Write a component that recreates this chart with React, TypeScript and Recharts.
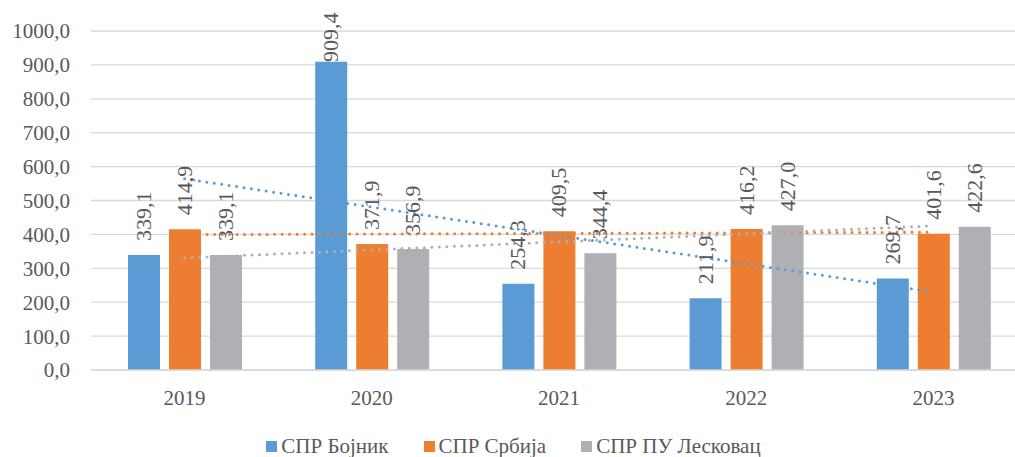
import { Bar, CartesianGrid, ComposedChart, LabelList, Legend, Line, XAxis, YAxis } from 'recharts'

const years = ['2019', '2020', '2021', '2022', '2023']
const bojnik = [339.1, 909.4, 254.3, 211.9, 269.7]
const srbija = [414.9, 371.9, 409.5, 416.2, 401.6]
const leskovac = [339.1, 356.9, 344.4, 427.0, 422.6]
const yTicks = [0, 100, 200, 300, 400, 500, 600, 700, 800, 900, 1000]

const FONT = '"Liberation Serif", "Times New Roman", serif'
const TEXT = '#595959'
const GRID = '#D9D9D9'

const series = [
  { key: 'bojnik', name: 'СПР Бојник', color: '#5B9BD5', values: bojnik },
  { key: 'srbija', name: 'СПР Србија', color: '#ED7D31', values: srbija },
  { key: 'leskovac', name: 'СПР ПУ Лесковац', color: '#AFB0B4', values: leskovac },
]

// linear trendline (least squares), as Excel draws it
function trend(values: number[]) {
  const n = values.length
  const mx = (n - 1) / 2
  const my = values.reduce((a, b) => a + b, 0) / n
  let sxy = 0
  let sxx = 0
  values.forEach((v, i) => {
    sxy += (i - mx) * (v - my)
    sxx += (i - mx) * (i - mx)
  })
  const slope = sxy / sxx
  return values.map((_, i) => my + slope * (i - mx))
}

const trends = series.map((s) => trend(s.values))

const data = years.map((year, i) => {
  const row: Record<string, string | number> = { year }
  series.forEach((s, k) => {
    row[s.key] = s.values[i]
    row[s.key + 'Trend'] = trends[k][i]
  })
  return row
})

const fmt = (v: number) => Number(v).toFixed(1).replace('.', ',')

function RotatedLabel(props: any) {
  const { x, y, width, value } = props
  const bx = Number(x) + Number(width) / 2 + 7
  // keep the tallest label inside the chart, like Excel does
  const by = Math.max(Number(y) - 14, 62)
  return (
    <text
      x={bx}
      y={by}
      transform={`rotate(-90 ${bx} ${by})`}
      textAnchor="start"
      fontSize={22}
      fill={TEXT}
      style={{ fontFamily: FONT }}
    >
      {fmt(value)}
    </text>
  )
}

function LegendContent() {
  return (
    <div style={{ display: 'flex', justifyContent: 'center', gap: 35, fontFamily: FONT, fontSize: 21, color: TEXT, lineHeight: '20px', height: 20 }}>
      {series.map((s) => (
        <div key={s.key} style={{ display: 'flex', alignItems: 'center' }}>
          <span style={{ display: 'inline-block', width: 11, height: 11, background: s.color, marginRight: 4 }} />
          <span>{s.name}</span>
        </div>
      ))}
    </div>
  )
}

export default function App() {
  return (
    <div style={{ position: 'fixed', left: 0, top: 0, width: 1015, height: 457, overflow: 'hidden', background: '#fff' }}>
      <ComposedChart width={1030} height={457} data={data} margin={{ top: 31, right: 3, bottom: 37, left: 0 }} barSize={32} barGap={9}>
        <CartesianGrid vertical={false} stroke={GRID} strokeWidth={1.3} />
        <XAxis
          dataKey="year"
          height={30}
          tickLine={false}
          axisLine={{ stroke: GRID, strokeWidth: 1.3 }}
          tickMargin={14}
          tick={{ fontSize: 21, fill: TEXT, style: { fontFamily: FONT } }}
        />
        <YAxis
          width={91}
          domain={[0, 1000]}
          ticks={yTicks}
          tickFormatter={fmt}
          axisLine={false}
          tickLine={false}
          tickMargin={15}
          tick={{ fontSize: 21, fill: TEXT, style: { fontFamily: FONT } }}
        />
        {series.map((s) => (
          <Bar key={s.key} dataKey={s.key} name={s.name} fill={s.color} isAnimationActive={false}>
            <LabelList dataKey={s.key} content={RotatedLabel} />
          </Bar>
        ))}
        {series.map((s) => (
          <Line
            key={s.key + 'Trend'}
            dataKey={s.key + 'Trend'}
            type="linear"
            stroke={s.color}
            strokeWidth={3}
            strokeDasharray="0 7.5"
            strokeLinecap="round"
            dot={false}
            activeDot={false}
            legendType="none"
            isAnimationActive={false}
          />
        ))}
        <Legend verticalAlign="bottom" height={20} content={<LegendContent />} wrapperStyle={{ top: 436, bottom: 'auto' }} />
      </ComposedChart>
    </div>
  )
}
